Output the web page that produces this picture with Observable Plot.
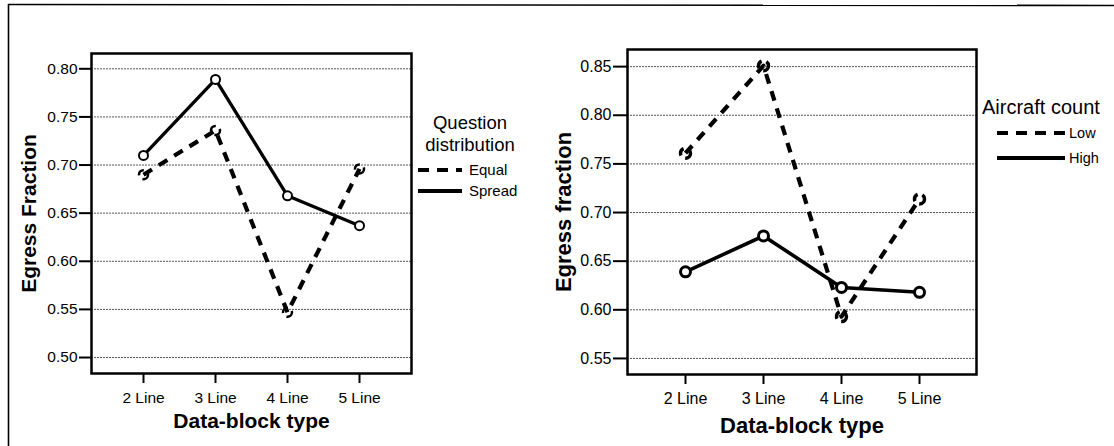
<!DOCTYPE html>
<html>
<head>
<meta charset="utf-8">
<script src="https://cdn.jsdelivr.net/npm/d3@7"></script>
<script src="https://cdn.jsdelivr.net/npm/@observablehq/plot@0.6"></script>
<style>
  html, body { margin: 0; padding: 0; background: #fff; }
  #wrap { position: relative; width: 1114px; height: 446px; overflow: hidden; background: #fff;
          font-family: "Liberation Sans", Arial, Helvetica, sans-serif; }
  .panel { position: absolute; top: 0; }
  #overlay { position: absolute; left: 0; top: 0; pointer-events: none; }
</style>
</head>
<body>
<div id="wrap">
  <div id="left" class="panel" style="left:0px"></div>
  <div id="right" class="panel" style="left:554px"></div>
  <svg id="overlay" width="1114" height="446"></svg>
</div>
<script>
// ---- data ----
const categories = ["2 Line", "3 Line", "4 Line", "5 Line"];

// Left panel: Question distribution
const leftSeries = ["Equal", "Spread"];
const equalValues  = [0.690, 0.736, 0.547, 0.696];
const spreadValues = [0.710, 0.789, 0.668, 0.637];
const leftYTicks = [0.50, 0.55, 0.60, 0.65, 0.70, 0.75, 0.80];
const leftLegendTitle = ["Question", "distribution"];
const leftYLabel = "Egress Fraction";

// Right panel: Aircraft count
const rightSeries = ["Low", "High"];
const lowValues  = [0.761, 0.851, 0.593, 0.714];
const highValues = [0.639, 0.676, 0.623, 0.618];
const rightYTicks = [0.55, 0.60, 0.65, 0.70, 0.75, 0.80, 0.85];
const rightLegendTitle = "Aircraft count";
const rightYLabel = "Egress fraction";

const xLabel = "Data-block type";

// ---- helpers ----
const rows = (vals) => categories.map((c, i) => ({cat: c, value: vals[i]}));
const FONT = '"Liberation Sans", Arial, Helvetica, sans-serif';

function panel({el, width, margins, yDomain, yTicks, dashedRows, solidRows, xPad,
                yTickSize, tickFont, titleFont, yLabel, yLabelDx, xLabelDy, dotR, dotSW, solidSW}) {
  const chart = Plot.plot({
    width, height: 446,
    marginLeft: margins[0], marginRight: margins[1], marginTop: margins[2], marginBottom: margins[3],
    style: {fontFamily: FONT, color: "#000", background: "transparent", overflow: "visible"},
    x: {type: "point", domain: categories, padding: xPad},
    y: {domain: yDomain},
    marks: [
      Plot.gridY(yTicks, {stroke: "#444", strokeOpacity: 0.9, strokeWidth: 1, strokeDasharray: "2,1"}),
      Plot.axisY({ticks: yTicks, tickFormat: d3.format(".2f"), tickSize: yTickSize, tickPadding: 2,
                  fontSize: tickFont, strokeWidth: 2, label: null}),
      Plot.axisX({tickSize: 10, tickPadding: 8, fontSize: tickFont, strokeWidth: 2, label: null}),
      Plot.line(dashedRows, {x: "cat", y: "value", stroke: "#000", strokeWidth: 4.2,
                             strokeDasharray: "10,8", strokeLinecap: "butt"}),
      Plot.dot(dashedRows, {x: "cat", y: "value", r: dotR, fill: "none", stroke: "#000",
                            strokeWidth: dotSW + 0.5, strokeDasharray: "8,5"}),
      Plot.line(solidRows, {x: "cat", y: "value", stroke: "#000", strokeWidth: solidSW}),
      Plot.dot(solidRows, {x: "cat", y: "value", r: dotR, fill: "#fff", stroke: "#000", strokeWidth: dotSW}),
      Plot.frame({stroke: "#000", strokeWidth: 2.5}),
      Plot.text([yLabel], {frameAnchor: "left", rotate: -90, dx: yLabelDx, fontSize: titleFont,
                           fontWeight: "bold", textAnchor: "middle", lineAnchor: "middle"}),
      Plot.text([xLabel], {frameAnchor: "bottom", dy: xLabelDy, fontSize: titleFont,
                           fontWeight: "bold", textAnchor: "middle", lineAnchor: "middle"})
    ]
  });
  document.getElementById(el).appendChild(chart);
}

panel({
  el: "left", width: 560, margins: [91, 149, 53, 73],
  yDomain: [0.4834, 0.8159], yTicks: leftYTicks,
  dashedRows: rows(equalValues), solidRows: rows(spreadValues), xPad: 0.7,
  yTickSize: 12, tickFont: 15.5, titleFont: 21, yLabel: leftYLabel, yLabelDx: -62, xLabelDy: 48,
  dotR: 4.5, dotSW: 2, solidSW: 3.3
});
panel({
  el: "right", width: 560, margins: [73, 138, 49, 72],
  yDomain: [0.5335, 0.8676], yTicks: rightYTicks,
  dashedRows: rows(lowValues), solidRows: rows(highValues), xPad: 0.72,
  yTickSize: 14, tickFont: 16, titleFont: 22, yLabel: rightYLabel, yLabelDx: -64, xLabelDy: 51,
  dotR: 5, dotSW: 3, solidSW: 3.6
});

// ---- overlay: page frame + legends ----
const svg = d3.select("#overlay");
svg.append("line").attr("x1", 8).attr("y1", 4.5).attr("x2", 1114).attr("y2", 5.5)
   .attr("stroke", "#000").attr("stroke-width", 1.6);
svg.append("line").attr("x1", 8.5).attr("y1", 4).attr("x2", 8.5).attr("y2", 446)
   .attr("stroke", "#000").attr("stroke-width", 1.6);

function txt(x, y, s, size, anchor) {
  svg.append("text").attr("x", x).attr("y", y).attr("dy", "0.35em")
     .attr("font-family", FONT).attr("font-size", size).attr("text-anchor", anchor || "start")
     .attr("fill", "#000").text(s);
}
function swatch(x1, x2, y, dashed) {
  svg.append("line").attr("x1", x1).attr("x2", x2).attr("y1", y).attr("y2", y)
     .attr("stroke", "#000").attr("stroke-width", 4)
     .attr("stroke-dasharray", dashed ? "11,8" : null);
}
// left legend
txt(470, 123, leftLegendTitle[0], 18.5, "middle");
txt(470, 145, leftLegendTitle[1], 18.5, "middle");
swatch(418, 462, 170, true);  txt(469, 170, leftSeries[0], 15);
swatch(418, 462, 191, false); txt(469, 191, leftSeries[1], 15);
// right legend
txt(982, 107, rightLegendTitle, 20);
swatch(997, 1065, 133, true);  txt(1069, 133, rightSeries[0], 14.5);
swatch(997, 1065, 158, false); txt(1069, 158, rightSeries[1], 14.5);
</script>
</body>
</html>
